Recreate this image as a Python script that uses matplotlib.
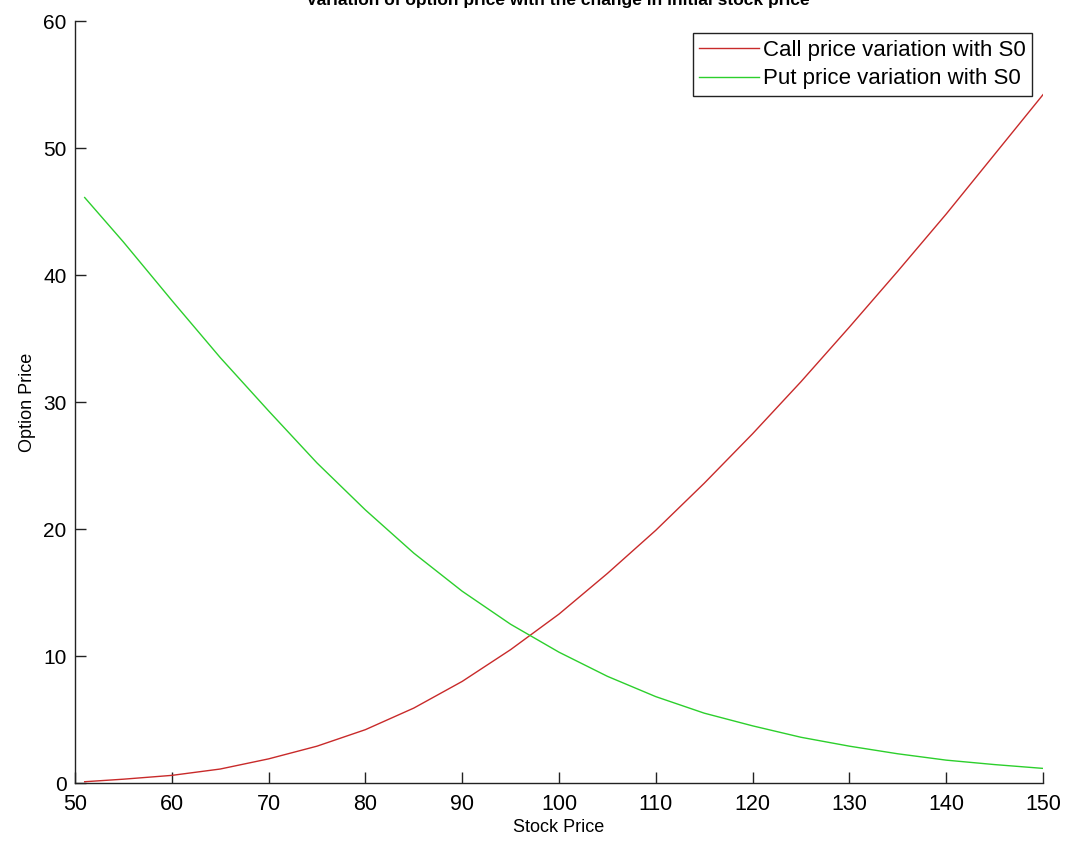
import numpy as np
import matplotlib.pyplot as plt

## data
stock_price = [51, 55, 60, 65, 70, 75, 80, 85, 90, 95, 100,
               105, 110, 115, 120, 125, 130, 135, 140, 145, 150]
call_price = [0.1, 0.3, 0.6, 1.1, 1.9, 2.9, 4.2, 5.9, 8.0, 10.5, 13.3,
              16.5, 19.9, 23.6, 27.5, 31.6, 35.9, 40.3, 44.8, 49.5, 54.2]
put_price = [46.1, 42.6, 38.0, 33.5, 29.3, 25.2, 21.5, 18.1, 15.1, 12.5, 10.3,
             8.4, 6.8, 5.5, 4.5, 3.6, 2.9, 2.3, 1.8, 1.45, 1.15]
x_ticks = np.arange(50, 151, 10)
y_ticks = np.arange(0, 61, 10)

plt.rcParams['font.family'] = ['Liberation Sans', 'DejaVu Sans']

fig = plt.figure(figsize=(10.66, 8.46), dpi=100)
ax = fig.add_axes([75 / 1066, 63 / 846, 968 / 1066, 762 / 846])

ax.plot(stock_price, call_price, color='#c82a2a', lw=1, label='Call price variation with S0')
ax.plot(stock_price, put_price, color='#2ccf2c', lw=1, label='Put price variation with S0')

ax.set_xlim(50, 150)
ax.set_ylim(0, 60)
ax.set_xticks(x_ticks)
ax.set_yticks(y_ticks)

## matlab-like axes: only left/bottom, inward ticks
ax.spines['top'].set_visible(False)
ax.spines['right'].set_visible(False)
for side in ['left', 'bottom']:
    ax.spines[side].set_color('#222222')
    ax.spines[side].set_linewidth(1)
ax.tick_params(direction='in', length=8, width=1, colors='#222222', labelcolor='black')
ax.tick_params(axis='x', labelsize=15.5, pad=8)
ax.tick_params(axis='y', labelsize=15, pad=6)

ax.set_xlabel('Stock Price', fontsize=13, labelpad=3)
ax.set_ylabel('Option Price', fontsize=13, labelpad=5)

## title sits mostly above the figure edge, like the source image
fig.text(0.523, 1 - 4.5 / 846, 'Variation of option price with the change in initial stock price',
         ha='center', va='baseline', fontsize=12.5, weight='bold')

leg = ax.legend(loc='upper right', bbox_to_anchor=(1 - 11 / 968, 1 - 12 / 762),
                fontsize=16, frameon=True, fancybox=False, framealpha=1,
                handlelength=2.7, handletextpad=0.15, borderpad=0.3,
                labelspacing=0.35, borderaxespad=0)
leg.get_frame().set_edgecolor('#222222')
leg.get_frame().set_linewidth(1)

fig.savefig('out.png', dpi=100)
